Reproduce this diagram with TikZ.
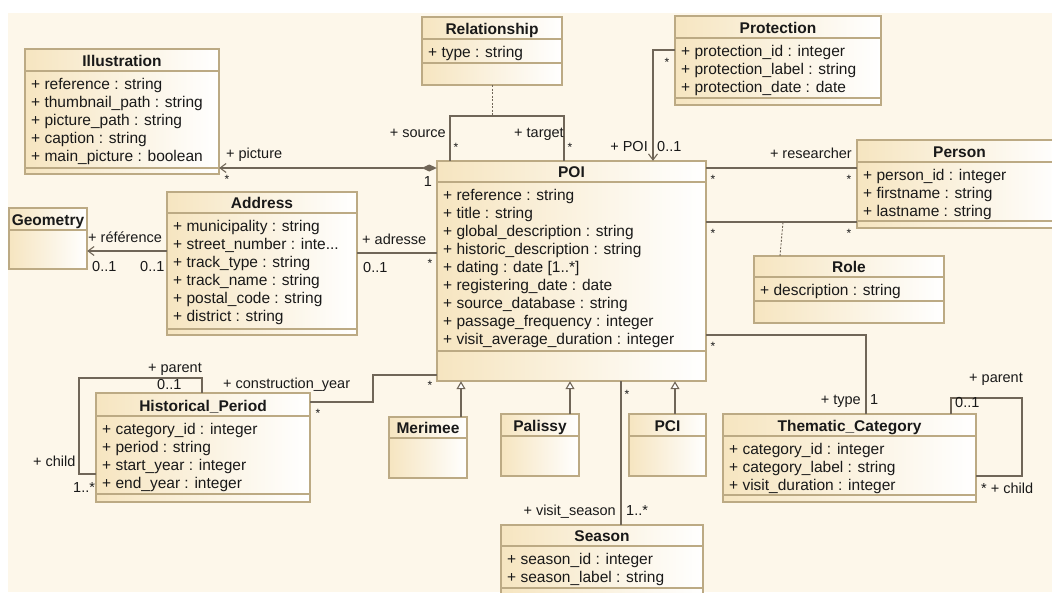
\documentclass[tikz,border=0pt]{standalone}
\usepackage{fontspec}
\setmainfont{Liberation Sans}
\usetikzlibrary{arrows.meta,fit}
\definecolor{bgcream}{RGB}{253,247,234}
\definecolor{classbeige}{RGB}{246,229,192}
\definecolor{classborder}{RGB}{188,170,132}
\definecolor{linecol}{RGB}{112,102,88}
\definecolor{txtcol}{RGB}{25,25,25}
\newcommand{\threedots}{...}
\tikzset{
  titletext/.style={font=\fontsize{15.5}{18}\selectfont\bfseries, text=txtcol, inner sep=0pt},
  attrtext/.style={font=\fontsize{15.5}{18}\selectfont, text=txtcol, inner sep=0pt},
  lbl/.style={font=\fontsize{14.5}{18}\selectfont, text=txtcol, inner sep=0pt},
  mult/.style={font=\fontsize{12}{14}\selectfont, text=txtcol, inner sep=0pt},
  assoc/.style={draw=linecol, line width=1.1pt},
  dotted line/.style={draw=linecol, line width=0.9pt, dash pattern=on 2pt off 1.5pt},
  openend/.style={-{Straight Barb[length=6pt,width=9pt]}},
  gen/.style={assoc, -{Triangle[open,length=8pt,width=9pt,fill=white]}},
}
\newcommand{\umlclass}[9]{%
  \path[left color=classbeige, right color=white] (#2,#3) rectangle (#4,#5);
  \node[fit={(#2,#3) (#4,#5)}, inner sep=0pt] (#1) {};
  \draw[classborder, line width=1.2pt] (#2,#3) rectangle (#4,#5);
  \draw[classborder, line width=1.2pt] (#2,#6) -- (#4,#6) (#2,#7) -- (#4,#7);
  \node[titletext, anchor=base] at ({(#2+#4)/2},#6-5) {#8};
  \foreach \t [count=\i] in {#9} {\node[attrtext, anchor=base west] at (#2+6,#6+18*\i) {\t};}
}
\begin{document}
\begin{tikzpicture}[x=1pt,y=-1pt]
\useasboundingbox (0,0) rectangle (1052,592);
\clip (0,0) rectangle (1052,592);
\fill[white] (0,0) rectangle (1052,592);
\fill[bgcream] (8,13) rectangle (1052,592);

% classes
\umlclass{illus}{25}{49}{219}{174}{71}{168}{Illustration}{{+ reference : string},{+ thumbnail\_path : string},{+ picture\_path : string},{+ caption : string},{+ main\_picture : boolean}}
\umlclass{rel}{422}{17}{562}{85}{39}{63}{Relationship}{{+ type : string}}
\umlclass{prot}{675}{16}{881}{105}{38}{98}{Protection}{{+ protection\_id : integer},{+ protection\_label : string},{+ protection\_date : date}}
\umlclass{poi}{437}{161}{706}{381}{182}{351}{POI}{{+ reference : string},{+ title : string},{+ global\_description : string},{+ historic\_description : string},{+ dating : date [1..*]},{+ registering\_date : date},{+ source\_database : string},{+ passage\_frequency : integer},{+ visit\_average\_duration : integer}}
\umlclass{person}{857}{140}{1062}{228}{162}{221}{Person}{{+ person\_id : integer},{+ firstname : string},{+ lastname : string}}
\umlclass{role}{754}{256}{944}{323}{277}{301}{Role}{{+ description : string}}
\umlclass{addr}{167}{192}{357}{335}{213}{329}{Address}{{+ municipality : string},{+ street\_number : inte\threedots},{+ track\_type : string},{+ track\_name : string},{+ postal\_code : string},{+ district : string}}
\umlclass{geom}{9}{208}{87}{269}{230}{269}{Geometry}{}
\umlclass{hist}{96}{393}{310}{502}{416}{494}{Historical\_Period}{{+ category\_id : integer},{+ period : string},{+ start\_year : integer},{+ end\_year : integer}}
\umlclass{merimee}{389}{417}{467}{478}{438}{478}{Merimee}{}
\umlclass{palissy}{501}{414}{579}{476}{436}{476}{Palissy}{}
\umlclass{pci}{629}{414}{706}{476}{436}{476}{PCI}{}
\umlclass{season}{501}{525}{703}{604}{546}{588}{Season}{{+ season\_id : integer},{+ season\_label : string}}
\umlclass{theme}{723}{414}{976}{502}{436}{495}{Thematic\_Category}{{+ category\_id : integer},{+ category\_label : string},{+ visit\_duration : integer}}

% Illustration -- POI (composition)
\draw[assoc, {Straight Barb[length=6pt,width=9pt]}-{Diamond[length=15pt,width=7pt,fill=linecol]}] (illus.east |- 0,168) -- (poi.west |- 0,168);
\node[lbl, anchor=base west] (lpic) at (226,158) {+ picture};
\node[mult] (m1) at (227,179) {*};
\node[lbl, anchor=base] (m2) at (428,186) {1};

% Relationship self association on POI
\coordinate (rs1) at (450,116);
\coordinate (rs2) at (564,116);
\draw[assoc] (poi.north -| 450,0) -- (rs1) -- (rs2) -- (poi.north -| 564,0);
\draw[dotted line] (rel.south) -- (rel.south |- rs1);
\node[lbl, anchor=base east] (lsrc) at (446,137) {+ source};
\node[mult] (m3) at (456,147) {*};
\node[lbl, anchor=base west] (ltgt) at (514,137) {+ target};
\node[mult] (m4) at (570,147) {*};

% Protection -- POI
\coordinate (pc) at (653,50);
\draw[assoc, openend] (prot.west |- pc) -- (pc) -- (poi.north -| pc);
\node[mult] (m5) at (667,62) {*};
\node[lbl, anchor=base east] (lpoi) at (648,151) {+ POI};
\node[lbl, anchor=base west] (m6) at (657,151) {0..1};

% POI -- Person (researcher)
\draw[assoc] (poi.east |- 0,168) -- (person.west |- 0,168);
\node[lbl, anchor=base east] (lres) at (852,158) {+ researcher};
\node[mult] (m7) at (713,179) {*};
\node[mult] (m8) at (849,179) {*};
% POI -- Person (role)
\coordinate (rl) at (783,222);
\draw[assoc] (poi.east |- rl) -- (person.west |- rl);
\draw[dotted line] (role.north -| 780,0) -- (rl);
\node[mult] (m9) at (713,233) {*};
\node[mult] (m10) at (849,233) {*};

% Address -- Geometry
\draw[assoc, openend] (addr.west |- 0,251) -- (geom.east |- 0,251);
\node[lbl, anchor=base west] (lref) at (88,242) {+ référence};
\node[lbl, anchor=base west] (m11) at (92,271) {0..1};
\node[lbl, anchor=base west] (m12) at (140,271) {0..1};

% Address -- POI
\draw[assoc] (addr.east |- 0,253) -- (poi.west |- 0,253);
\node[lbl, anchor=base west] (ladr) at (362,244) {+ adresse};
\node[lbl, anchor=base west] (m13) at (363,272) {0..1};
\node[mult] (m14) at (430,263) {*};

% Historical_Period self association
\coordinate (h1) at (202,378);
\coordinate (h2) at (79,378);
\coordinate (h3) at (79,474);
\draw[assoc] (hist.north -| h1) -- (h1) -- (h2) -- (h3) -- (hist.west |- h3);
\node[lbl, anchor=base west] (lpar1) at (148,372) {+ parent};
\node[lbl, anchor=base west] (m15) at (157,389) {0..1};
\node[lbl, anchor=base west] (lch1) at (33,466) {+ child};
\node[lbl, anchor=base west] (m16) at (73,492) {1..*};

% Historical_Period -- POI
\coordinate (c1) at (373,402);
\coordinate (c2) at (373,375);
\draw[assoc] (hist.east |- c1) -- (c1) -- (c2) -- (poi.west |- c2);
\node[lbl, anchor=base west] (lcy) at (223,388) {+ construction\_year};
\node[mult] (m17) at (318,413) {*};
\node[mult] (m18) at (430,385) {*};

% Generalizations
\draw[gen] (merimee.north -| 461,0) -- (poi.south -| 461,0);
\draw[gen] (palissy.north -| 570,0) -- (poi.south -| 570,0);
\draw[gen] (pci.north -| 675,0) -- (poi.south -| 675,0);

% POI -- Season
\draw[assoc] (poi.south -| 621,0) -- (season.north -| 621,0);
\node[mult] (m19) at (627,394) {*};
\node[lbl, anchor=base east] (lvs) at (616,515) {+ visit\_season};
\node[lbl, anchor=base west] (m20) at (626,515) {1..*};

% POI -- Thematic_Category
\coordinate (t1) at (866,335);
\draw[assoc] (poi.east |- t1) -- (t1) -- (theme.north -| t1);
\node[mult] (m21) at (713,346) {*};
\node[lbl, anchor=base east] (ltype) at (861,404) {+ type};
\node[lbl, anchor=base west] (m22) at (870,404) {1};

% Thematic_Category self association
\coordinate (k1) at (951,398);
\coordinate (k2) at (1022,398);
\coordinate (k3) at (1022,476);
\draw[assoc] (theme.north -| k1) -- (k1) -- (k2) -- (k3) -- (theme.east |- k3);
\node[lbl, anchor=base west] (lpar2) at (969,382) {+ parent};
\node[lbl, anchor=base west] (m23) at (955,407) {0..1};
\node[lbl, anchor=base west] (lch2) at (981,493) {* + child};
\end{tikzpicture}
\end{document}
